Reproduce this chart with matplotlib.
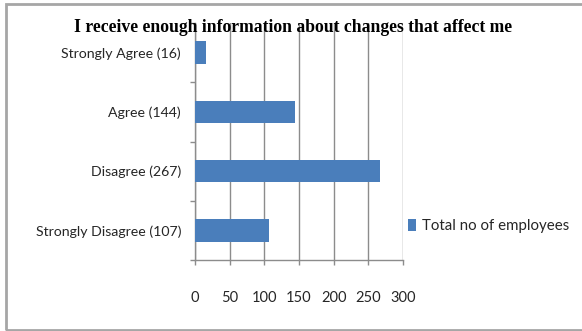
import matplotlib.pyplot as plt
from matplotlib.patches import Rectangle

# data
categories = ['Strongly Agree (16)', 'Agree (144)', 'Disagree (267)', 'Strongly Disagree (107)']
employees = [16, 144, 267, 107]
x_ticks = [0, 50, 100, 150, 200, 250, 300]
title = 'I receive enough information about changes that affect me'
series_name = 'Total no of employees'

label_font = ['Lato', 'DejaVu Sans']
bar_color = '#4a7ebb'
grid_color = '#8c8c8c'
text_color = '#262626'

fig = plt.figure(figsize=(5.82, 3.31), dpi=100)
ax = fig.add_axes([195 / 582, 71 / 331, 208 / 582, 237 / 331])

pos = list(range(len(categories)))
ax.barh(pos, employees, height=0.38, color=bar_color, label=series_name, zorder=3)

ax.set_xlim(0, 300)
ax.set_ylim(len(categories) - 0.5, -0.5)
ax.set_xticks(x_ticks)
ax.set_xticklabels([str(t) for t in x_ticks], family=label_font, fontsize=10.5, color=text_color)
ax.set_yticks(pos)
ax.set_yticklabels(categories, family=label_font, fontsize=10.2, color=text_color)
ax.set_yticks([p + 0.5 for p in range(-1, len(categories))], minor=True)

ax.tick_params(axis='y', which='major', length=0, pad=10)
ax.tick_params(axis='y', which='minor', length=3.6, width=1, color=grid_color)
ax.tick_params(axis='x', length=3.6, width=1, color=grid_color, pad=18.5)

ax.grid(axis='x', color=grid_color, linewidth=1, zorder=0)
for side in ['top', 'right']:
    ax.spines[side].set_visible(False)
for side in ['left', 'bottom']:
    ax.spines[side].set_color(grid_color)
    ax.spines[side].set_linewidth(1)

fig.text(293 / 582, 1 - 28 / 331, title, ha='center', va='center',
         family='Liberation Serif', fontweight='bold', fontsize=12.7)

fig.legend(loc='center left', bbox_to_anchor=(408 / 582, 1 - 226 / 331), frameon=False,
           prop={'family': label_font, 'size': 10.8}, handlelength=0.5, handleheight=0.8,
           handletextpad=0.4, borderaxespad=0, borderpad=0)
for t in fig.legends[0].get_texts():
    t.set_color(text_color)

# grey frame around the chart area
fig.patches.append(Rectangle((6 / 582, 1 / 331), 1.0, 326.5 / 331, transform=fig.transFigure,
                             fill=False, edgecolor='#a6a6a6', linewidth=2))

fig.savefig('out.png', dpi=100)
